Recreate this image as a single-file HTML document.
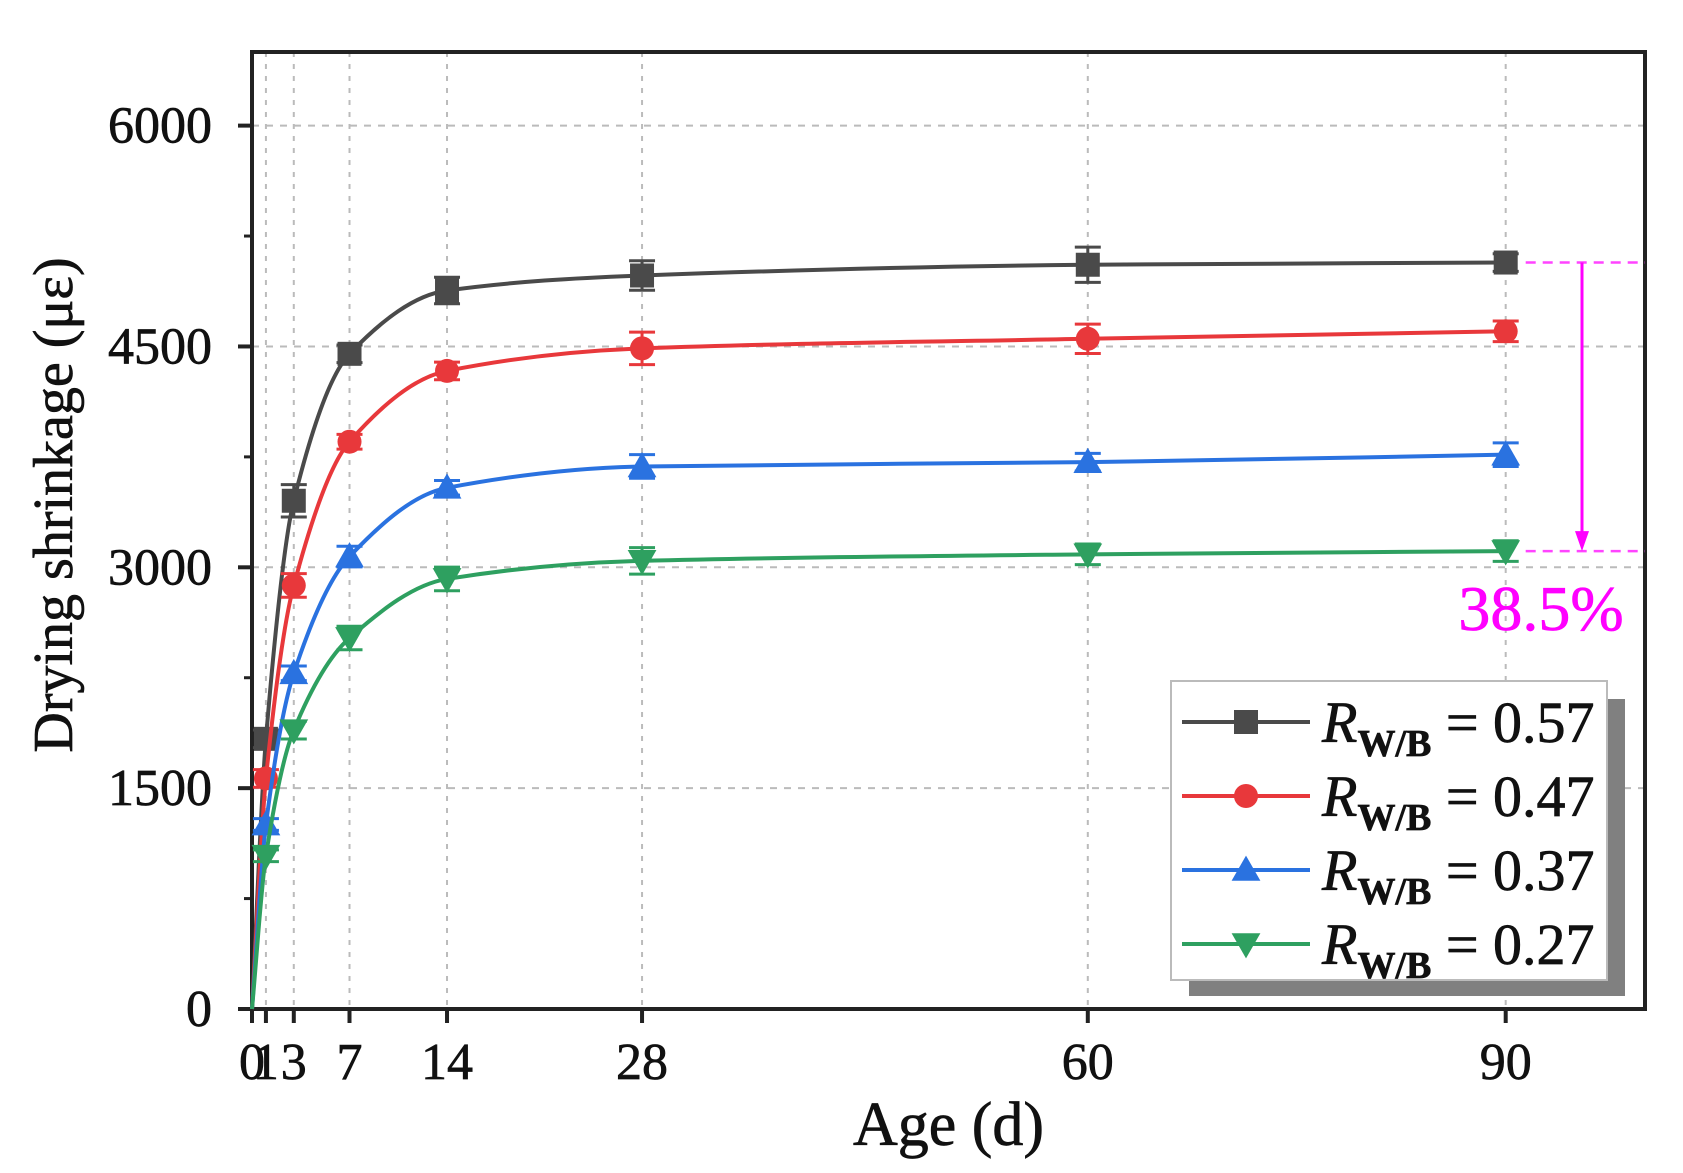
<!DOCTYPE html>
<html><head><meta charset="utf-8"><style>
html,body{margin:0;padding:0;background:#fff;}
svg{display:block;font-family:"Liberation Serif",serif;}
text{stroke:currentColor;stroke-width:0.7;}
</style></head><body>
<svg id="chart" width="1683" height="1173" viewBox="0 0 1683 1173" xmlns="http://www.w3.org/2000/svg"></svg>
<script>
const ages = [0, 1, 3, 7, 14, 28, 60, 90];
const seriesNames = ["0.57", "0.47", "0.37", "0.27"];
const wb057 = [0, 1835, 3452, 4450, 4880, 4982, 5055, 5070];
const wb047 = [0, 1566, 2877, 3853, 4334, 4487, 4552, 4603];
const wb037 = [0, 1253, 2280, 3073, 3540, 3685, 3714, 3765];
const wb027 = [0, 1041, 1894, 2520, 2921, 3044, 3088, 3110];
const err057 = [0, 60, 110, 60, 90, 100, 120, 60];
const err047 = [0, 60, 80, 50, 60, 110, 100, 70];
const err037 = [0, 40, 50, 70, 50, 80, 60, 80];
const err027 = [0, 40, 60, 80, 80, 90, 70, 70];
const yTicks = [0, 1500, 3000, 4500, 6000];
const xTicks = [0, 1, 3, 7, 14, 28, 60, 90];

const L=252,R=1645,T=52,B=1009, XMIN=0,XMAX=100,YMIN=0,YMAX=6500;
const xs=v=>L+(v-XMIN)/(XMAX-XMIN)*(R-L);
const ys=v=>B-(v-YMIN)/(YMAX-YMIN)*(B-T);
const svg=document.getElementById('chart');
const NS="http://www.w3.org/2000/svg";
function mk(tag,attrs,parent){const e=document.createElementNS(NS,tag);for(const k in attrs)e.setAttribute(k,attrs[k]);(parent||svg).appendChild(e);return e;}

const grid=mk('g',{});


xTicks.forEach(t=>{if(t>0)mk('line',{x1:xs(t),x2:xs(t),y1:T,y2:B,stroke:'#bbb','stroke-width':2,'stroke-dasharray':'5,7'},grid);});
yTicks.forEach(t=>{if(t>0)mk('line',{x1:L,x2:R,y1:ys(t),y2:ys(t),stroke:'#bbb','stroke-width':2,'stroke-dasharray':'7,7'},grid);});

const axes=mk('g',{});


yTicks.forEach(t=>{
  mk('line',{x1:L-14,x2:L,y1:ys(t),y2:ys(t),stroke:'#222','stroke-width':4},axes);
  const tx=mk('text',{x:L-40,y:ys(t)+17,'text-anchor':'end','font-size':52,fill:'#111',color:'#111'},axes);
  tx.textContent=t;
  
  
});
for(let v=750;v<YMAX;v+=1500){mk('line',{x1:L-8,x2:L,y1:ys(v),y2:ys(v),stroke:'#222','stroke-width':3},axes);}
xTicks.forEach(t=>{
  mk('line',{x1:xs(t),x2:xs(t),y1:B,y2:B+14,stroke:'#222','stroke-width':4},axes);
  const tx=mk('text',{x:xs(t),y:B+70,'text-anchor':'middle','font-size':52,fill:'#111',color:'#111'},axes);
  tx.textContent=t;
  
  
});
mk('rect',{x:L,y:T,width:R-L,height:B-T,fill:'none',stroke:'#222','stroke-width':4},axes);
const xt=mk('text',{x:(L+R)/2,y:1145,'text-anchor':'middle','font-size':62,fill:'#111',color:'#111'});
xt.textContent='Age (d)';


const yt=mk('text',{x:0,y:0,'text-anchor':'middle','font-size':56,fill:'#111',color:'#111',transform:'translate(72,505) rotate(-90)'});
yt.textContent='Drying shrinkage (με)';



function curve(xv,yv){
  const n=xv.length,px=xv.map(xs),py=yv.map(ys);
  const d=[],m=new Array(n);
  for(let i=0;i<n-1;i++)d.push((py[i+1]-py[i])/(px[i+1]-px[i]));
  m[0]=d[0];m[n-1]=d[n-2];
  for(let i=1;i<n-1;i++){m[i]=(d[i-1]*d[i]<=0)?0:(2/(1/d[i-1]+1/d[i]));}
  let p=`M${px[0]},${py[0]}`;
  for(let i=0;i<n-1;i++){const h=px[i+1]-px[i];
    p+=` C${px[i]+h/3},${py[i]+m[i]*h/3} ${px[i+1]-h/3},${py[i+1]-m[i+1]*h/3} ${px[i+1]},${py[i+1]}`;}
  return p;
}
function marker(g,type,x,y,c,s){
  if(type==='sq')return mk('rect',{x:x-s,y:y-s,width:2*s,height:2*s,fill:c},g);
  if(type==='ci')return mk('circle',{cx:x,cy:y,r:s,fill:c},g);
  if(type==='up')return mk('polygon',{points:`${x},${y-s*1.2} ${x-s*1.2},${y+s*0.9} ${x+s*1.2},${y+s*0.9}`,fill:c},g);
  return mk('polygon',{points:`${x},${y+s*1.2} ${x-s*1.2},${y-s*0.9} ${x+s*1.2},${y-s*0.9}`,fill:c},g);
}
const allSeries=[[wb057,err057,'#4a4a4a','sq'],[wb047,err047,'#e8383b','ci'],[wb037,err037,'#2a72e0','up'],[wb027,err027,'#2ea060','dn']];
allSeries.forEach((s,si)=>{
  const g=mk('g',{});
  
  
  mk('path',{d:curve(ages,s[0]),fill:'none',stroke:s[2],'stroke-width':4},g);
  ages.forEach((a,i)=>{
    if(a===0)return;
    const x=xs(a),y=ys(s[0][i]),e=s[1][i];
    mk('line',{x1:x,x2:x,y1:ys(s[0][i]+e),y2:ys(s[0][i]-e),stroke:s[2],'stroke-width':3},g);
    mk('line',{x1:x-13,x2:x+13,y1:ys(s[0][i]+e),y2:ys(s[0][i]+e),stroke:s[2],'stroke-width':3},g);
    mk('line',{x1:x-13,x2:x+13,y1:ys(s[0][i]-e),y2:ys(s[0][i]-e),stroke:s[2],'stroke-width':3},g);
    const mkr=marker(g,s[3],x,y,s[2],12);
    
    
  });
});

const an=mk('g',{});


const yA=ys(wb057[7]),yB=ys(wb027[7]);
mk('line',{x1:xs(90)+20,x2:R,y1:yA,y2:yA,stroke:'#ff44ff','stroke-width':2.5,'stroke-dasharray':'10,7'},an);
mk('line',{x1:xs(90)+20,x2:R,y1:yB,y2:yB,stroke:'#ff44ff','stroke-width':2.5,'stroke-dasharray':'10,7'},an);
mk('line',{x1:1582,x2:1582,y1:yA,y2:yB-14,stroke:'#ff00ff','stroke-width':3},an);
mk('polygon',{points:`1582,${yB} 1575,${yB-20} 1589,${yB-20}`,fill:'#ff00ff'},an);
const pt=mk('text',{x:1541,y:630,'text-anchor':'middle','font-size':64,fill:'#ff00ff',color:'#ff00ff'},an);
pt.textContent='38.5%';

const lg=mk('g',{});


mk('rect',{x:1189,y:699,width:436,height:297,fill:'#808080'},lg);
mk('rect',{x:1171,y:681,width:436,height:299,fill:'#fff',stroke:'#bbb','stroke-width':2},lg);
allSeries.forEach((s,i)=>{
  const y=722+i*74;
  const e=mk('g',{},lg);
  
  
  mk('line',{x1:1182,x2:1310,y1:y,y2:y,stroke:s[2],'stroke-width':4},e);
  marker(e,s[3],1246,y,s[2],12);
  const t=mk('text',{x:1322,y:y+20,'font-size':58,fill:'#111',color:'#111'},e);
  t.innerHTML=`<tspan font-style="italic">R</tspan><tspan font-size="38" dy="14" font-weight="bold">W/B</tspan><tspan dy="-14"> = ${seriesNames[i]}</tspan>`;
});
</script>
</body></html>
